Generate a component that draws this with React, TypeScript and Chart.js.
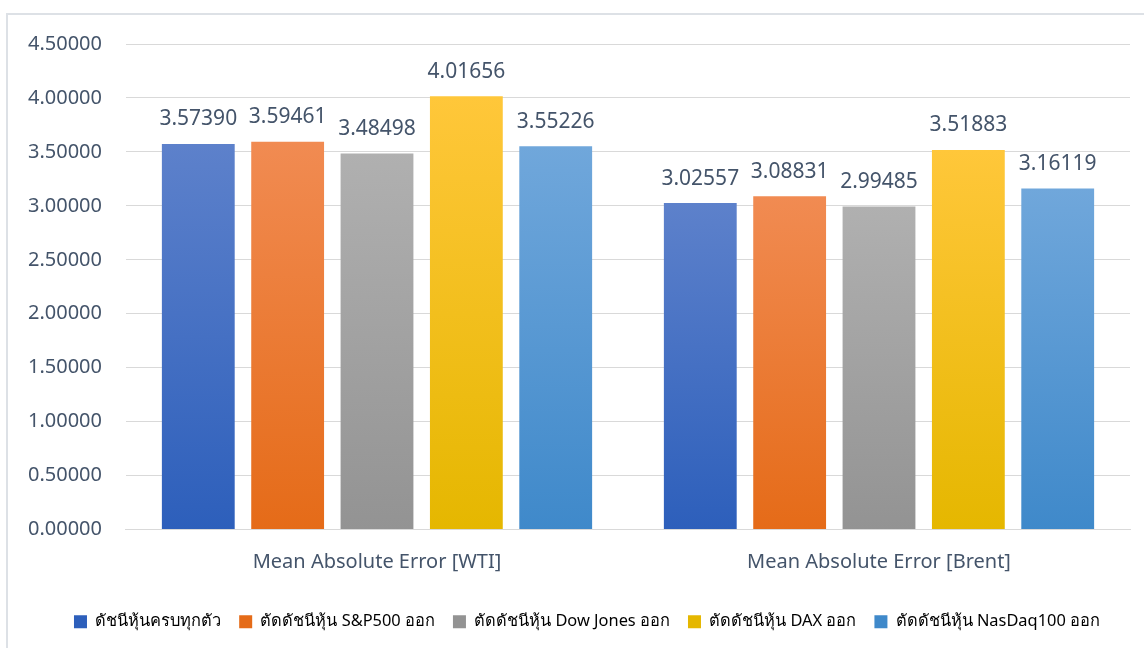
import React, { useEffect, useRef } from "react";
import { Chart, registerables } from "chart.js";

Chart.register(...registerables);

const categories = ["Mean Absolute Error [WTI]", "Mean Absolute Error [Brent]"];
const seriesNames = [
  "ดัชนีหุ้นครบทุกตัว",
  "ตัดดัชนีหุ้น S&P500 ออก",
  "ตัดดัชนีหุ้น Dow Jones ออก",
  "ตัดดัชนีหุ้น DAX ออก",
  "ตัดดัชนีหุ้น NasDaq100 ออก",
];
const allIndices = [3.5739, 3.02557];
const noSP500 = [3.59461, 3.08831];
const noDowJones = [3.48498, 2.99485];
const noDAX = [4.01656, 3.51883];
const noNasdaq = [3.55226, 3.16119];
const seriesValues = [allIndices, noSP500, noDowJones, noDAX, noNasdaq];
const topColors = ["#5d81cb", "#f18b52", "#b0b0b0", "#ffc73a", "#70a7db"];
const bottomColors = ["#2d5fbb", "#e56b18", "#939393", "#e5b700", "#3f89ca"];
const TEXT = "#44546a";
const FONT = "'Noto Sans', 'DejaVu Sans', sans-serif";

export default function App() {
  const ref = useRef<HTMLCanvasElement | null>(null);
  useEffect(() => {
    document.body.style.margin = "0";
    const canvas = ref.current!;
    const frame = {
      id: "frame",
      beforeDraw(chart: any) {
        const c = chart.ctx;
        c.save();
        c.fillStyle = "#ffffff";
        c.fillRect(0, 0, chart.width, chart.height);
        c.strokeStyle = "#dde1e6";
        c.lineWidth = 2;
        c.beginPath();
        c.moveTo(7, chart.height);
        c.lineTo(7, 14);
        c.lineTo(chart.width, 14);
        c.stroke();
        c.restore();
      },
    };
    const shiftLegend = {
      id: "shiftLegend",
      afterLayout(chart: any) {
        if (chart.legend) {
          chart.legend.left += 20;
          chart.legend.right += 20;
        }
      },
    };
    const labels = {
      id: "valueLabels",
      afterDatasetsDraw(chart: any) {
        const c = chart.ctx;
        c.save();
        c.font = `21px ${FONT}`;
        c.fillStyle = TEXT;
        c.textAlign = "center";
        c.textBaseline = "bottom";
        chart.data.datasets.forEach((ds: any, i: number) => {
          const meta = chart.getDatasetMeta(i);
          meta.data.forEach((bar: any, j: number) => {
            c.fillText(ds.data[j].toFixed(5), bar.x, bar.y - 14);
          });
        });
        c.restore();
      },
    };
    const chart = new Chart(canvas, {
      type: "bar",
      data: {
        labels: categories,
        datasets: seriesValues.map((vals, i) => ({
          label: seriesNames[i],
          data: vals,
          backgroundColor: (ctx: any) => {
            const ch = ctx.chart;
            const y = ch.scales.y;
            if (!y || ctx.parsed === undefined || ctx.type !== "data") return topColors[i];
            const top = y.getPixelForValue(ctx.parsed.y);
            const bottom = y.getPixelForValue(0);
            if (!isFinite(top) || !isFinite(bottom) || top === bottom) return topColors[i];
            const g = ch.ctx.createLinearGradient(0, top, 0, bottom);
            g.addColorStop(0, topColors[i]);
            g.addColorStop(1, bottomColors[i]);
            return g;
          },
          categoryPercentage: 0.89,
          barPercentage: 0.815,
          borderWidth: 0,
        })),
      },
      options: {
        responsive: false,
        animation: false,
        layout: { padding: { left: 4, right: 14, top: 44, bottom: 8 } },
        plugins: {
          legend: {
            position: "bottom",
            labels: {
              color: TEXT,
              font: { family: FONT, size: 16.4 },
              boxWidth: 13,
              boxHeight: 13,
              padding: 18,
              generateLabels: (ch: any) =>
                seriesNames.map((n, i) => ({
                  text: n,
                  fillStyle: bottomColors[i],
                  strokeStyle: bottomColors[i],
                  lineWidth: 0,
                  datasetIndex: i,
                  hidden: false,
                })),
            },
          },
          tooltip: { enabled: false },
        },
        scales: {
          x: {
            grid: { display: false, drawTicks: false },
            border: { color: "#d9d9d9", width: 1 },
            ticks: { color: TEXT, font: { family: FONT, size: 20 }, padding: 21 },
          },
          y: {
            min: 0,
            max: 4.5,
            ticks: {
              stepSize: 0.5,
              color: TEXT,
              font: { family: FONT, size: 20 },
              padding: 24,
              callback: (v: any) => Number(v).toFixed(5),
            },
            grid: { color: "#d9d9d9", lineWidth: 1, drawTicks: false },
            border: { display: false },
          },
        },
      },
      plugins: [frame, shiftLegend, labels],
    } as any);
    return () => chart.destroy();
  }, []);
  return <canvas ref={ref} width={1144} height={648} style={{ display: "block" }} />;
}
